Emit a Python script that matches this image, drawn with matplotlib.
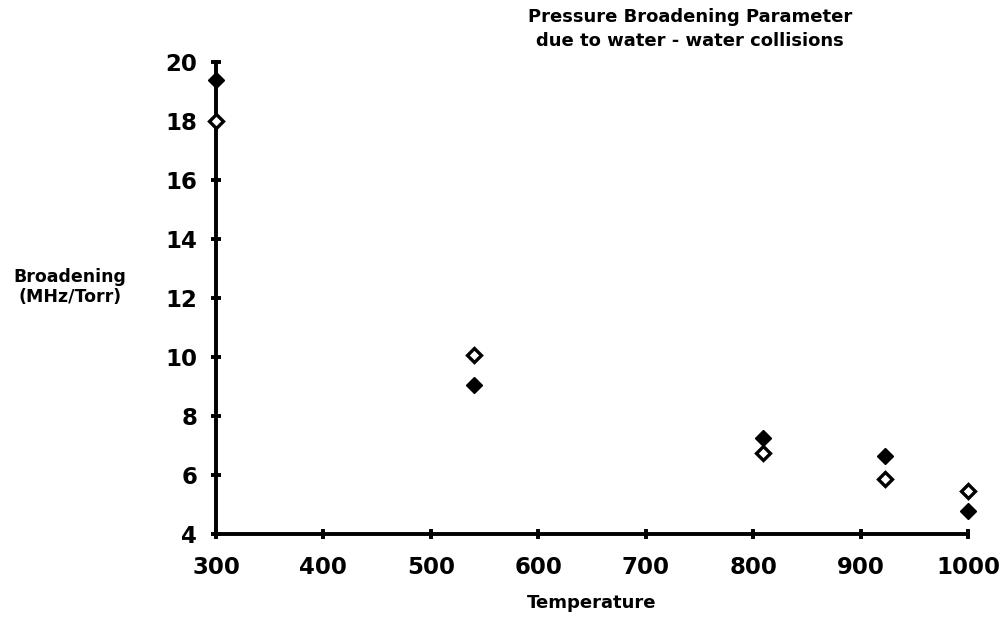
import matplotlib
matplotlib.use("Agg")
import matplotlib.pyplot as plt

temps = [300, 540, 809, 923, 1000]
filled_vals = [19.4, 9.05, 7.25, 6.65, 4.78]
open_vals = [18.0, 10.07, 6.75, 5.86, 5.46]
xticks = [300, 400, 500, 600, 700, 800, 900, 1000]
yticks = [4, 6, 8, 10, 12, 14, 16, 18, 20]

plt.rcParams['font.family'] = ['DejaVu Sans']
plt.rcParams['font.weight'] = 'bold'

fig = plt.figure(figsize=(10.04, 6.24), dpi=100)
ax = fig.add_axes([216/1004, 1-534/624, (968-216)/1004, (534-62)/624])

ax.plot(temps, filled_vals, linestyle='none', marker='D', markersize=8.5,
        color='black', clip_on=False, zorder=5)
ax.plot(temps, open_vals, linestyle='none', marker='D', markersize=7.3,
        markerfacecolor='white', markeredgecolor='black', markeredgewidth=2.4,
        clip_on=False, zorder=5)

ax.set_xlim(300, 1000)
ax.set_ylim(4, 20)
ax.set_xticks(xticks)
ax.set_yticks(yticks)
ax.set_xticklabels([str(t) for t in xticks], fontsize=16.5, fontweight='bold')
ax.set_yticklabels([str(t) for t in yticks], fontsize=16.5, fontweight='bold')

for s in ['top', 'right']:
    ax.spines[s].set_visible(False)
for s in ['left', 'bottom']:
    ax.spines[s].set_linewidth(2.8)
    ax.spines[s].set_color('black')

ax.tick_params(axis='both', direction='inout', length=7, width=2.8, colors='black')
ax.tick_params(axis='x', pad=12)
ax.tick_params(axis='y', pad=10)

fig.text(690/1004, 1-17/624, 'Pressure Broadening Parameter', ha='center', va='center',
         fontsize=13, fontweight='bold')
fig.text(690/1004, 1-41/624, 'due to water - water collisions', ha='center', va='center',
         fontsize=13, fontweight='bold')
fig.text(70/1004, 1-287/624, 'Broadening\n(MHz/Torr)', ha='center', va='center',
         fontsize=12.5, fontweight='bold', linespacing=1.1)
fig.text(592/1004, 1-603/624, 'Temperature', ha='center', va='center',
         fontsize=13, fontweight='bold')

fig.savefig('out.png', dpi=100, facecolor='white')
